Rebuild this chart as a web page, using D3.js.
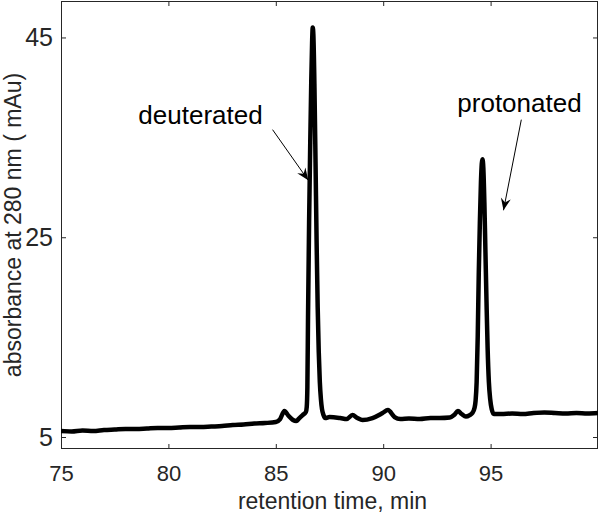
<!DOCTYPE html>
<html>
<head>
<meta charset="utf-8">
<script src="https://cdn.jsdelivr.net/npm/d3@7"></script>
<style>
    body { margin: 0; background: #fff; }
    #chart { width: 600px; height: 513px; }
    text { font-family: 'Liberation Sans', Arial, Helvetica, sans-serif; }
</style>
</head>
<body>
<div id="chart"></div>
<script>
const tiempo = [75.0, 75.5, 76.0, 76.5, 77.0, 77.5, 78.0, 78.5, 79.0, 79.5, 80.0, 80.5, 81.0, 81.5, 82.0, 82.5, 83.0, 83.5, 84.0, 84.5, 85.0,
    85.2, 85.4, 85.6, 85.8, 85.95, 86.1, 86.25, 86.4, 86.44, 86.47, 86.5, 86.55, 86.6, 86.65, 86.69, 86.72, 86.75, 86.8, 86.85, 86.9, 86.95,
    87.0, 87.05, 87.1, 87.15, 87.22, 87.3, 87.5, 88.0, 88.3, 88.57, 88.8, 89.04, 89.5, 89.97, 90.22, 90.53, 90.8, 91.2, 91.7, 92.2, 92.63,
    93.1, 93.3, 93.48, 93.65, 93.85, 94.03, 94.15, 94.25, 94.3, 94.35, 94.4, 94.45, 94.5, 94.55, 94.59, 94.62, 94.66, 94.71, 94.76, 94.81,
    94.86, 94.92, 94.98, 95.05, 95.15, 95.5, 96.0, 96.5, 97.0, 97.5, 98.0, 98.5, 99.0, 99.5, 100.0];
const absorbancia = [5.6, 5.55, 5.65, 5.6, 5.7, 5.75, 5.8, 5.8, 5.85, 5.9, 5.9, 5.95, 6.0, 6.0, 6.05, 6.1, 6.2, 6.25, 6.35, 6.4, 6.5,
    6.8, 7.6, 7.1, 6.7, 6.6, 6.9, 7.2, 7.5, 8.0, 10, 17, 26.5, 34, 40.5, 44.5, 46.0, 45.2, 40, 32.5, 24.5, 18,
    13.5, 10.5, 8.8, 7.8, 7.2, 6.9, 7.0, 6.9, 6.8, 7.2, 6.9, 6.7, 6.9, 7.4, 7.7, 7.0, 6.8, 6.85, 6.8, 6.9, 6.9,
    6.95, 7.2, 7.6, 7.3, 7.05, 7.2, 7.4, 7.9, 8.6, 10.5, 15, 21.5, 26.5, 30.5, 32.4, 32.8, 32.0, 28.5, 23.5, 18.5,
    14, 10.5, 8.8, 7.8, 7.3, 7.3, 7.35, 7.3, 7.4, 7.45, 7.4, 7.35, 7.4, 7.35, 7.4];
const xTicks = [75, 80, 85, 90, 95];
const yTicks = [5, 25, 45];
const etiquetas = ['deuterated', 'protonated'];

//Colores fijos
const COLOR_AXIS = '#262626',
COLOR_LINE = '#000000';

let data = tiempo.map(function(t, i) { return {t: t, v: absorbancia[i]}; });

/// ELEMENTOS GENÉRICOS
let margin = {top: 1, right: 2, bottom: 64, left: 61},
    width = 600 - margin.left - margin.right,
    height = 513 - margin.top - margin.bottom;

let svg = d3.select("#chart")
    .append("svg")
        .attr("width", width + margin.left + margin.right)
        .attr("height", height + margin.top + margin.bottom)
    .append("g")
        .attr("transform", "translate(" + margin.left + "," + margin.top + ")");

let x = d3.scaleLinear()
    .domain([75, 100])
    .range([0, width]);

let y = d3.scaleLinear()
    .domain([3.8, 48.65])
    .range([height, 0]);

//Ejes (ticks hacia dentro, también arriba y a la derecha)
let xAxis = function(g) {
    g.call(d3.axisBottom(x).tickValues(xTicks).tickSize(-5).tickPadding(16).tickSizeOuter(0));
    g.call(function(g){g.select('.domain').remove()});
    g.call(function(g){g.selectAll('.tick text').style('font-size', '22px')});
}
let xAxisTop = function(g) {
    g.call(d3.axisTop(x).tickValues(xTicks).tickSize(-5).tickFormat('').tickSizeOuter(0));
    g.call(function(g){g.select('.domain').remove()});
}
let yAxis = function(g) {
    g.call(d3.axisLeft(y).tickValues(yTicks).tickSize(-5).tickPadding(8).tickSizeOuter(0));
    g.call(function(g){g.select('.domain').remove()});
    g.call(function(g){g.selectAll('.tick text').style('font-size', '25px')});
}
let yAxisRight = function(g) {
    g.call(d3.axisRight(y).tickValues(yTicks).tickSize(-5).tickFormat('').tickSizeOuter(0));
    g.call(function(g){g.select('.domain').remove()});
}

svg.append("g").attr("class", "xaxis").attr("transform", "translate(0," + height + ")").call(xAxis);
svg.append("g").attr("class", "xaxis").call(xAxisTop);
svg.append("g").attr("class", "yaxis").call(yAxis);
svg.append("g").attr("class", "yaxis").attr("transform", "translate(" + width + ",0)").call(yAxisRight);

svg.selectAll('.tick line').attr('stroke', COLOR_AXIS);
svg.selectAll('.tick text').attr('fill', COLOR_AXIS);

//Caja
svg.append("rect")
    .attr("x", 0.5)
    .attr("y", 0.5)
    .attr("width", width - 1)
    .attr("height", height - 1)
    .attr("fill", "none")
    .attr("stroke", COLOR_AXIS)
    .attr("stroke-width", 1);

//Títulos de ejes
svg.append("text")
    .attr("x", width / 2 + 3)
    .attr("y", height + 60)
    .attr("text-anchor", "middle")
    .attr("fill", COLOR_AXIS)
    .style("font-size", "23px")
    .text("retention time, min");

svg.append("text")
    .attr("transform", "translate(" + (-40) + "," + (225 - margin.top) + ") rotate(-90)")
    .attr("text-anchor", "middle")
    .attr("fill", COLOR_AXIS)
    .style("font-size", "23px")
    .text("absorbance at 280 nm ( mAu)");

/// LÍNEA
svg.append("clipPath")
    .attr("id", "clip")
    .append("rect")
    .attr("width", width)
    .attr("height", height);

let line = d3.line()
    .x(function(d) { return x(d.t); })
    .y(function(d) { return y(d.v); })
    .curve(d3.curveMonotoneX);

svg.append("path")
    .datum(data)
    .attr("clip-path", "url(#clip)")
    .attr("fill", "none")
    .attr("stroke", COLOR_LINE)
    .attr("stroke-width", 4.5)
    .attr("stroke-linejoin", "round")
    .attr("d", line);

/// ANOTACIONES
svg.append("defs").append("marker")
    .attr("id", "flecha")
    .attr("viewBox", "-13 -6 14 12")
    .attr("refX", 0)
    .attr("refY", 0)
    .attr("markerWidth", 14)
    .attr("markerHeight", 12)
    .attr("markerUnits", "userSpaceOnUse")
    .attr("orient", "auto")
    .append("path")
    .attr("d", "M0,0 L-12,-5 L-8,0 L-12,5 Z")
    .attr("fill", COLOR_LINE);

let notas = [
    {texto: etiquetas[0], tx: 78.6, ty: 36.37, x1: 84.85, y1: 35.77, x2: 86.51, y2: 30.7},
    {texto: etiquetas[1], tx: 93.45, ty: 37.53, x1: 96.43, y1: 36.77, x2: 95.6, y2: 27.7}
];

notas.forEach(function(n) {
    svg.append("text")
        .attr("x", x(n.tx))
        .attr("y", y(n.ty))
        .attr("fill", COLOR_LINE)
        .style("font-size", "26px")
        .text(n.texto);

    svg.append("line")
        .attr("x1", x(n.x1))
        .attr("y1", y(n.y1))
        .attr("x2", x(n.x2))
        .attr("y2", y(n.y2))
        .attr("stroke", COLOR_LINE)
        .attr("stroke-width", 1)
        .attr("marker-end", "url(#flecha)");
});
</script>
</body>
</html>
